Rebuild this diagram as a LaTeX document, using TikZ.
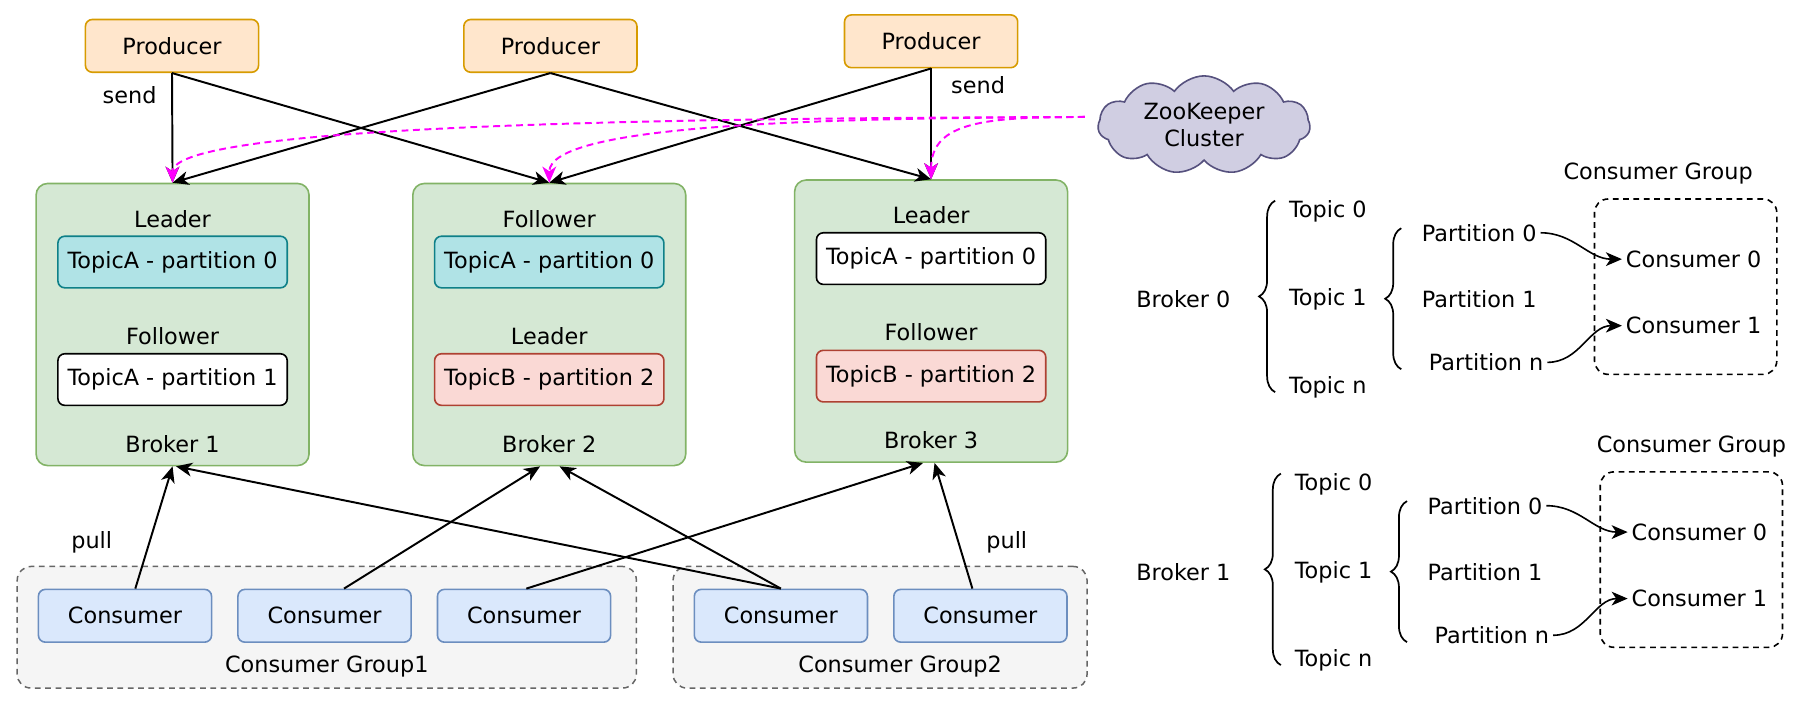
\documentclass[tikz,border=0pt]{standalone}
\usepackage{fontspec}
\setmainfont{DejaVu Sans}
\usetikzlibrary{arrows.meta,positioning,shapes.symbols,decorations.pathreplacing}

\definecolor{prodfill}{HTML}{FFE6CC}
\definecolor{prodline}{HTML}{D79B00}
\definecolor{brokfill}{HTML}{D5E8D4}
\definecolor{brokline}{HTML}{82B366}
\definecolor{tealfill}{HTML}{B0E3E6}
\definecolor{tealline}{HTML}{0E8088}
\definecolor{redfill}{HTML}{FAD9D5}
\definecolor{redline}{HTML}{AE4132}
\definecolor{consfill}{HTML}{DAE8FC}
\definecolor{consline}{HTML}{6C8EBF}
\definecolor{grpfill}{HTML}{F5F5F5}
\definecolor{grpline}{HTML}{666666}
\definecolor{zkfill}{HTML}{D0CEE2}
\definecolor{zkline}{HTML}{56517E}
\definecolor{zkpink}{HTML}{FF00FF}

\tikzset{
  box/.style={draw, rounded corners=6pt, line width=1.4pt, minimum height=46pt, inner sep=0pt},
  producer/.style={box, fill=prodfill, draw=prodline, minimum width=151pt},
  consumer/.style={box, fill=consfill, draw=consline, minimum width=151pt},
  brokerbox/.style={draw=brokline, fill=brokfill, line width=1.4pt, rounded corners=10pt,
    minimum width=238pt, minimum height=246pt},
  part/.style={box, minimum width=200pt, minimum height=45pt},
  partteal/.style={part, fill=tealfill, draw=tealline},
  partred/.style={part, fill=redfill, draw=redline},
  partplain/.style={part, fill=white, draw=black},
  group/.style={draw=grpline, fill=grpfill, line width=1.3pt, dash pattern=on 5pt off 4pt,
    rounded corners=12pt, minimum height=106pt},
  cgroup/.style={draw, line width=1.4pt, dash pattern=on 5pt off 4pt, rounded corners=12pt,
    minimum width=159pt, minimum height=153pt},
  flow/.style={-{Stealth[length=14pt,width=12pt,inset=4pt]}, line width=1.7pt},
  zkflow/.style={flow, draw=zkpink, dash pattern=on 6pt off 4pt},
  bracket/.style={decorate, decoration={brace, amplitude=14pt}, line width=1.5pt}
}

\begin{document}
\begin{tikzpicture}[x=1pt, y=-1pt, font=\fontsize{19.5}{23}\selectfont]
\useasboundingbox (0,0) rectangle (1568,614);

\node[group, minimum width=540pt] (g1) at (285,547) {};
\node[group, minimum width=361pt] (g2) at (767.5,547) {};
\node (g1name) at (285,581) {Consumer Group1};
\node (g2name) at (785,581) {Consumer Group2};
\foreach \n/\x in {1/109,2/283,3/457,4/681,5/855}
  \node[consumer] (c\n) at (\x,537) {Consumer};

\foreach \n/\x/\y/\la/\sa/\lb/\sb/\tb in {1/150.5/283/Leader/partteal/Follower/partplain/TopicA - partition 1,
    2/479/283/Follower/partteal/Leader/partred/TopicB - partition 2,
    3/812/280/Leader/partplain/Follower/partred/TopicB - partition 2} {
  \node[brokerbox] (b\n) at (\x,\y) {};
  \node (lead\n) at (\x,\y-92) {\la};
  \node[\sa] (tpa\n) at (\x,\y-54.5) {TopicA - partition 0};
  \node (role\n) at (\x,\y+10) {\lb};
  \node[\sb] (tpb\n) at (\x,\y+48) {\tb};
  \node (bname\n) at (\x,\y+104) {Broker \n};
}

\node[producer] (p1) at (150,40) {Producer};
\node[producer] (p2) at (480,40) {Producer};
\node[producer] (p3) at (812,36) {Producer};
\node (send1) at (113,83) {send};
\node (send2) at (853,74) {send};
\node (pull1) at (80,473) {pull};
\node (pull2) at (878,473) {pull};

\node[cloud, cloud puffs=11, cloud puff arc=110, aspect=2.3, draw=zkline, fill=zkfill,
  line width=1.4pt, minimum width=185pt, minimum height=84pt, align=center, inner sep=1pt]
  (zk) at (1050,109) {ZooKeeper\\Cluster};

\foreach \a/\b in {p1/b1,p1/b2,p2/b1,p2/b3,p3/b2,p3/b3}
  \draw[flow] (\a.south) -- (\b.north);

\draw[flow] ([xshift=9pt]c1.north) -- (b1.south);
\draw[flow] ([xshift=17pt]c2.north) -- ([xshift=-8pt]b2.south);
\draw[flow] ([xshift=2pt]c3.north) -- ([xshift=-7pt]b3.south);
\draw[flow] (c4.north) -- ([xshift=3pt]b1.south);
\draw[flow] (c4.north) -- ([xshift=9pt]b2.south);
\draw[flow] ([xshift=-7pt]c5.north) -- ([xshift=3pt]b3.south);

\coordinate (zs) at (946,102);
\draw[zkflow] (zs) .. controls (600,103) and (150,108) .. (b1.north);
\draw[zkflow] (zs) .. controls (720,103) and (479,108) .. (b2.north);
\draw[zkflow] (zs) .. controls (860,102) and (812,106) .. (b3.north);

\foreach \k/\dx/\dy/\gx in {0/0/0/1446,1/5/238/1475} {
  \node (br\k) at (1032,261+\dy) {Broker \k};
  \node (tz\k) at (1158+\dx,184+\dy) {Topic 0};
  \node (to\k) at (1158+\dx,261+\dy) {Topic 1};
  \node (tn\k) at (1158+\dx,338+\dy) {Topic n};
  \draw[bracket] (1112+\dx,342+\dy) -- (1112+\dx,175+\dy);
  \node (pz\k) at (1290+\dx,203+\dy) {Partition 0};
  \node (po\k) at (1290+\dx,261+\dy) {Partition 1};
  \node (pn\k) at (1296+\dx,316+\dy) {Partition n};
  \draw[bracket] (1222+\dx,322+\dy) -- (1222+\dx,199+\dy);
  \node[cgroup] (cg\k) at (1470+\dx,250+\dy) {};
  \node (cgname\k) at (\gx,151+\dy) {Consumer Group};
  \node (cz\k) at (1477+\dx,226+\dy) {Consumer 0};
  \node (co\k) at (1477+\dx,284+\dy) {Consumer 1};
  \draw[flow, line width=1.4pt] (pz\k) to[out=0, in=180] (cz\k);
  \draw[flow, line width=1.4pt] (pn\k) to[out=0, in=180] (co\k);
}
\end{tikzpicture}
\end{document}
